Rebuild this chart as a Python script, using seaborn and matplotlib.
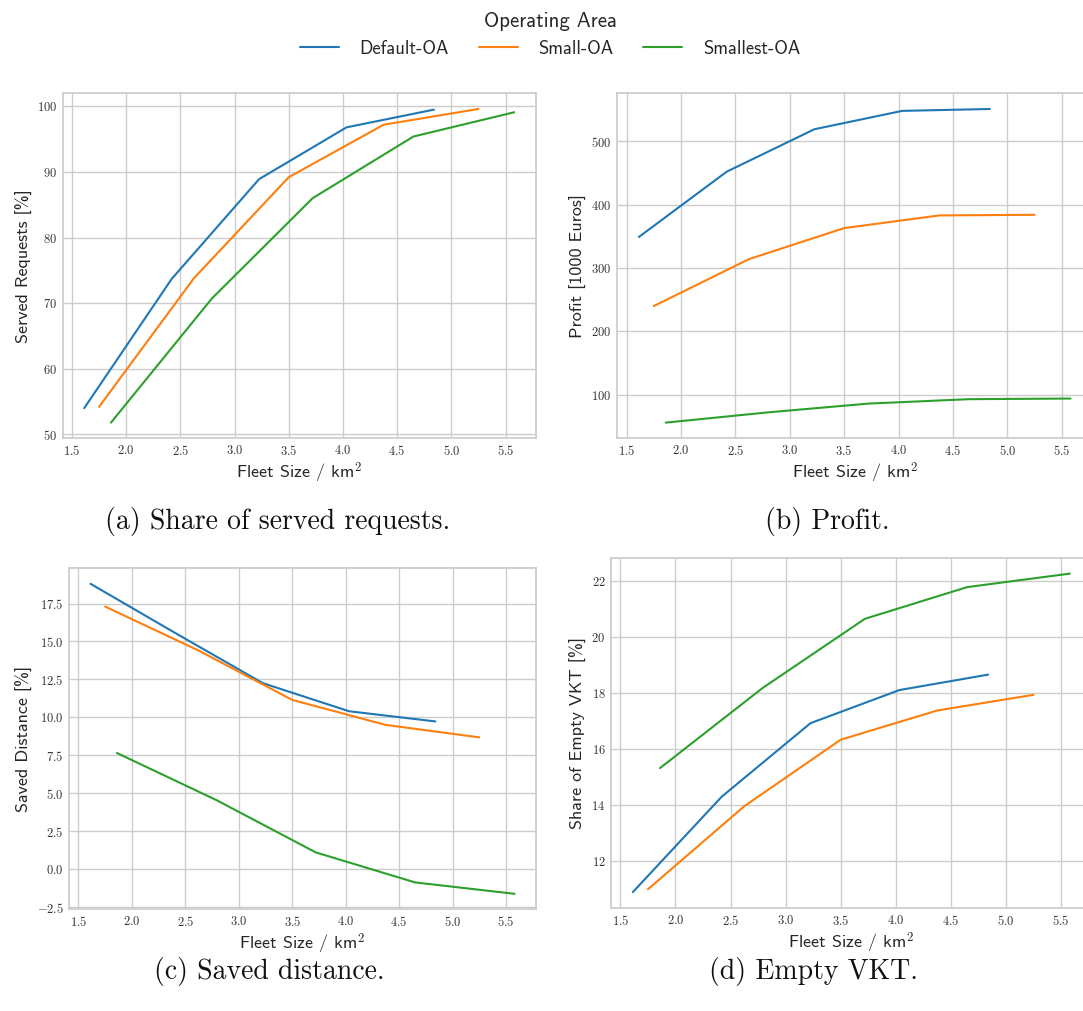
import numpy as np
import pandas as pd
import matplotlib
matplotlib.use("Agg")
import matplotlib.pyplot as plt
from matplotlib.ticker import FuncFormatter
import seaborn as sns

# Fleet size per km² for each operating area
areas = ["Default-OA", "Small-OA", "Smallest-OA"]
x_default = [1.613, 2.42, 3.226, 4.033, 4.839]
x_small = [1.75, 2.625, 3.5, 4.375, 5.25]
x_smallest = [1.86, 2.79, 3.72, 4.65, 5.58]

# Share of served requests [%]
served_default = [54.0, 73.7, 88.9, 96.8, 99.5]
served_small = [54.2, 73.8, 89.2, 97.2, 99.6]
served_smallest = [51.8, 70.7, 86.0, 95.4, 99.1]

# Profit [1000 Euros]
profit_default = [349, 452, 519, 548, 551]
profit_small = [240, 314, 363, 383, 384]
profit_smallest = [56, 72, 86, 93, 94]

# Saved distance [%]
saved_default = [18.8, 15.5, 12.25, 10.4, 9.73]
saved_small = [17.3, 14.4, 11.15, 9.5, 8.68]
saved_smallest = [7.65, 4.55, 1.1, -0.88, -1.63]

# Share of empty VKT [%]
empty_default = [10.9, 14.3, 16.92, 18.1, 18.65]
empty_small = [11.0, 13.96, 16.33, 17.37, 17.93]
empty_smallest = [15.32, 18.17, 20.64, 21.77, 22.25]

ylabels = ["Served Requests [%]", "Profit [1000 Euros]",
           "Saved Distance [%]", "Share of Empty VKT [%]"]
captions = ["(a) Share of served requests.", "(b) Profit.",
            "(c) Saved distance.", "(d) Empty VKT."]

xs = [x_default, x_small, x_smallest]
metrics = [
    [served_default, served_small, served_smallest],
    [profit_default, profit_small, profit_smallest],
    [saved_default, saved_small, saved_smallest],
    [empty_default, empty_small, empty_smallest],
]

sns.set_theme(style="whitegrid")
plt.rcParams["mathtext.fontset"] = "cm"
plt.rcParams["axes.unicode_minus"] = False

SANS = ["cmss10", "DejaVu Sans"]
SERIF = ["cmr10", "DejaVu Serif"]

palette = sns.color_palette("tab10", 3)

W, H = 1083, 1011
fig = plt.figure(figsize=(W / 100, H / 100), dpi=100)

# axes boxes in pixels: left, top, right, bottom
boxes = [
    (62.7, 93.3, 535.7, 438.3),
    (617.3, 93.3, 1092.0, 438.3),
    (69.3, 568.3, 535.7, 909.3),
    (611.0, 557.7, 1091.6, 908.0),
]
cap_pos = [(278, 522), (827, 522), (269, 971), (813, 971)]

yfmt = [lambda v, p: f"${v:.0f}$", lambda v, p: f"${v:.0f}$",
        lambda v, p: f"${v:.1f}$", lambda v, p: f"${v:.0f}$"]

for i, (box, vals) in enumerate(zip(boxes, metrics)):
    l, t, r, b = box
    ax = fig.add_axes([l / W, 1 - b / H, (r - l) / W, (b - t) / H])
    frames = []
    for name, x, y in zip(areas, xs, vals):
        frames.append(pd.DataFrame({"x": x, "y": y, "Operating Area": name}))
    df = pd.concat(frames, ignore_index=True)
    sns.lineplot(data=df, x="x", y="y", hue="Operating Area",
                 palette=palette, ax=ax, legend=False, linewidth=1.5)
    ax.set_xticks([1.5, 2.0, 2.5, 3.0, 3.5, 4.0, 4.5, 5.0, 5.5])
    ax.xaxis.set_major_formatter(FuncFormatter(lambda v, p: f"${v:.1f}$"))
    ax.yaxis.set_major_formatter(FuncFormatter(yfmt[i]))
    ax.tick_params(axis="both", labelsize=9, length=0, pad=4,
                   colors="#333333")
    ax.set_xlabel("Fleet Size / km$^2$", fontsize=13, family=SANS,
                  color="#262626", labelpad=2)
    ax.set_ylabel(ylabels[i], fontsize=13, family=SANS,
                  color="#262626", labelpad=3)
    for s in ax.spines.values():
        s.set_color("#cccccc")
    fig.text(cap_pos[i][0] / W, 1 - cap_pos[i][1] / H, captions[i],
             ha="center", va="center", fontsize=20, family=SERIF,
             color="#111111")

handles = [plt.Line2D([], [], color=c, lw=1.5) for c in palette]
leg = fig.legend(handles, areas, title="Operating Area", loc="upper center",
                 bbox_to_anchor=(550 / W, 1.005), ncol=3, frameon=False,
                 prop={"family": SANS, "size": 13.4},
                 title_fontproperties={"family": SANS, "size": 15},
                 handlelength=2.1, columnspacing=1.6, handletextpad=1.1)

fig.savefig("out.png", dpi=100)
